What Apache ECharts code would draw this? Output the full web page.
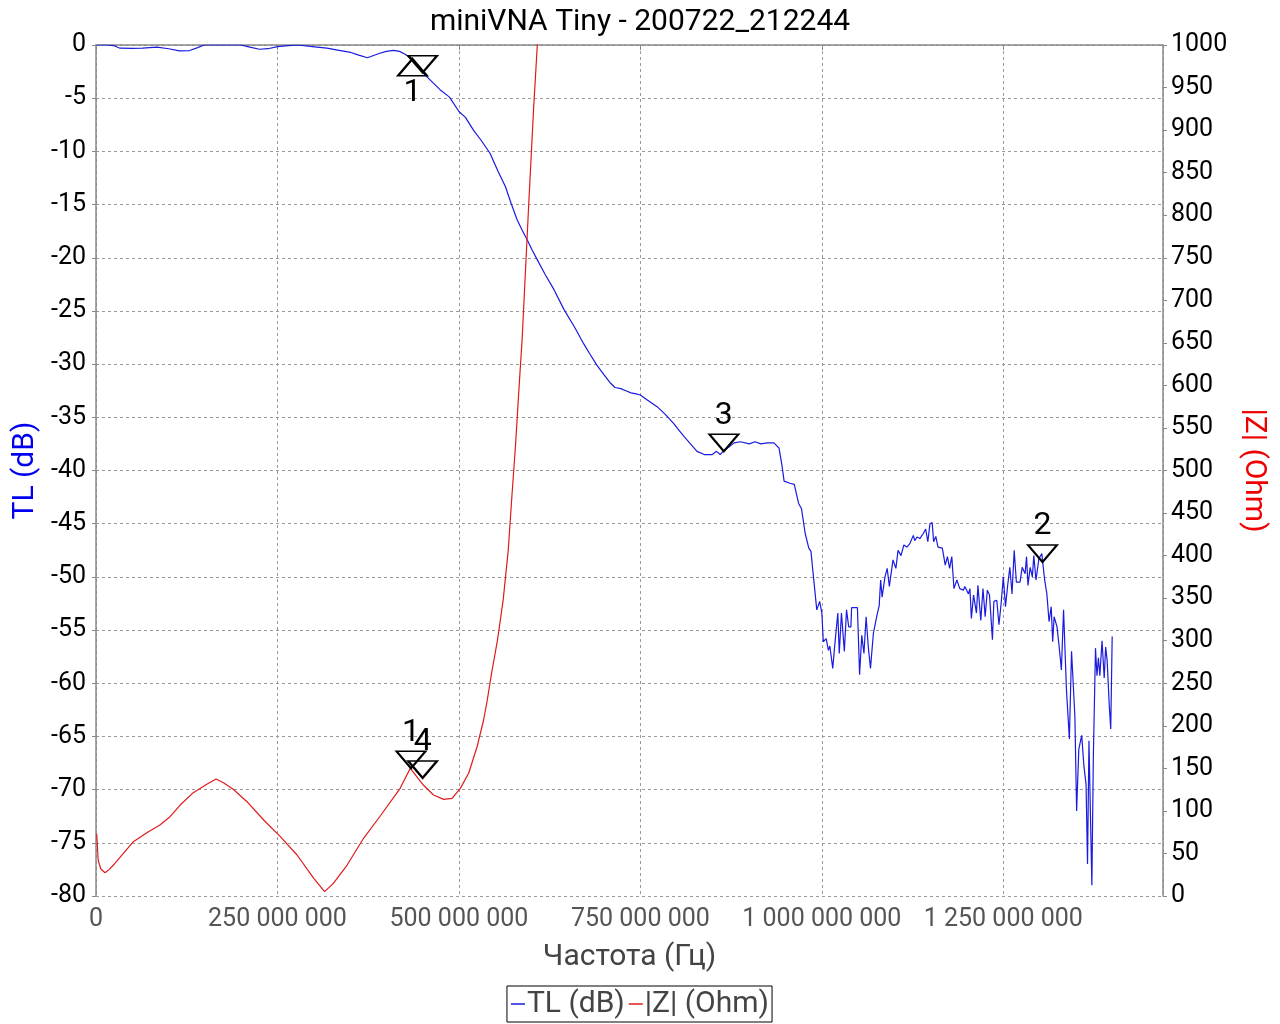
<!DOCTYPE html>
<html>
<head>
<meta charset="utf-8">
<script src="https://cdn.jsdelivr.net/npm/echarts@6/dist/echarts.min.js"></script>
<style>
html,body{margin:0;padding:0;background:#fff;}
#chart{width:1280px;height:1024px;}
</style>
</head>
<body>
<div id="chart"></div>
<script>
// ---- Data (frequencies in MHz) ----
const tlFreqMHz = [1,15,24,33,50,64,84,100,115,129,140,149,170,199,212,225,237,250,265,278,298,318,335,351,362,374,390,400,410,418,424,436,444,453,462,474,487,500,509,520,531,543,554,564,572,580,587,594,601,608,619,631,645,660,672,680,690,700,709,715,723,730,737,744,750,760,773,784,796,803,810,819,828,838,849,855,860,865,872,879,888,900,908,916,925,934,941,945,948,956,962,968,972,977,982,985,988,993,997,1000,1002,1006,1009,1011,1015,1018,1022,1024,1027,1031,1034,1037,1040,1041,1049,1052,1055,1058,1061,1064,1067,1071,1076,1079,1081,1083,1087,1090,1093,1098,1102,1105,1109,1113,1117,1121,1126,1128,1131,1135,1140,1143,1146,1149,1152,1154,1157,1160,1166,1170,1173,1176,1179,1182,1186,1190,1195,1197,1202,1204,1206,1209,1213,1215,1219,1222,1225,1228,1231,1235,1237,1241,1244,1247,1250,1253,1256,1259,1262,1265,1268,1273,1276,1280,1282,1284,1287,1290,1292,1295,1299,1303,1307,1310,1313,1316,1318,1320,1324,1327,1330,1333,1337,1341,1344,1348.6,1351,1354,1358,1361,1364,1366,1368,1372,1374,1377,1379,1381,1383,1386,1389,1391,1393,1396,1398,1400];
const tlDb = [0,0,-0.05,-0.3,-0.32,-0.3,-0.2,-0.35,-0.56,-0.52,-0.25,0,0,0,-0.2,-0.4,-0.35,-0.15,-0.05,0,-0.15,-0.3,-0.5,-0.7,-0.95,-1.2,-0.8,-0.6,-0.5,-0.6,-0.8,-1.3,-2.0,-2.8,-3.4,-4.2,-4.9,-6.25,-6.8,-8.0,-9.0,-10.2,-11.9,-13.3,-14.9,-16.4,-17.4,-18.3,-19.3,-20.2,-21.6,-23.0,-24.9,-26.6,-28.1,-29.0,-30.1,-31.0,-31.8,-32.2,-32.3,-32.5,-32.7,-32.8,-32.9,-33.4,-34.0,-34.7,-35.6,-36.2,-36.8,-37.5,-38.2,-38.5,-38.5,-38.2,-38.5,-38.1,-37.8,-37.4,-37.3,-37.5,-37.3,-37.5,-37.4,-37.4,-37.9,-39.5,-41.0,-41.2,-41.3,-43.1,-43.6,-45.9,-47.3,-47.6,-49.7,-53.1,-52.3,-53.4,-56.1,-55.8,-56.9,-56.5,-58.6,-56.25,-53.4,-57.2,-53.4,-57.0,-53.1,-54.7,-54.7,-52.9,-52.9,-59.2,-55.5,-57.2,-53.75,-56.6,-58.6,-55.3,-53.6,-52.7,-50.3,-51.9,-50.0,-49.2,-50.9,-48.4,-49.2,-47.5,-48.0,-47.0,-47.2,-46.9,-46.1,-46.6,-46.25,-46.4,-45.9,-45.5,-46.7,-45.0,-44.9,-46.7,-46.2,-47.2,-47.3,-48.9,-48.1,-49.2,-48.1,-51.1,-50.3,-51.1,-51.25,-50.9,-51.6,-51.1,-53.9,-51.7,-53.4,-50.8,-54.1,-51.1,-53.75,-51.25,-51.7,-55.9,-52.3,-52.2,-54.5,-52.5,-50.0,-52.8,-50.8,-49.1,-51.6,-47.5,-50.5,-50.5,-49.1,-49.7,-48.1,-50.8,-49.1,-50.0,-48.0,-50.3,-48.3,-47.8,-50.3,-51.6,-54.2,-52.8,-56.1,-53.75,-54.7,-56.6,-58.75,-53.1,-60.6,-65.25,-57.0,-63.1,-72.0,-66.2,-64.9,-67.75,-69.5,-77.0,-65.4,-79.0,-67.1,-56.7,-59.3,-57.6,-59.3,-56.0,-59.5,-56.6,-57.8,-62.1,-64.3,-55.6];

const zFreqMHz = [1,3,6.5,12.4,18,24,37.7,51.5,70,88,102,116,134,152.6,165.5,175.6,189,208,231,254,277,300,315,327,346,368.6,391.6,419,433,451,465,479,490.5,502,513.4,525,534,539,545,553,561,568,573,578,583,587,596,603,608,612];
const zOhm = [73,42,32,27.4,31,36.4,50,63.8,74.4,83.4,93.2,106.9,121.4,131.3,137.5,133.1,125.4,110.8,89.3,69.7,48.2,20.8,5.1,14.9,36.4,67.8,94,126.5,150,130.4,118.7,113.6,114.8,126.5,144.2,175.4,206.8,230,262,300,348,407,470,530,600,653,810,927,1000,1060];

// markers: [label, freqMHz, value, direction]
const tlMarkers = [['1',436,-1.3,'up'],['4',450,-2.6,'downNoLabel'],['3',865,-38.2,'down'],['2',1304,-48.6,'down']];
const zMarkers = [['1',434,150,'down'],['4',450,138.7,'down']];

const xTicksHz = [0,250000000,500000000,750000000,1000000000,1250000000];

// ---- Build ----
const FONT = 'Roboto';
const tlData = tlFreqMHz.map((f,i)=>[f*1e6, tlDb[i]]);
const zData = zFreqMHz.map((f,i)=>[f*1e6, zOhm[i]]);
const downPath = 'path://M0,0L30,0L15,17.5Z';
const upPath = 'path://M15,0L30,17.5L0,17.5Z';
function mk(m){
  const up = m[3]==='up';
  return {
    coord:[m[1]*1e6, m[2]],
    symbol: up?upPath:downPath,
    symbolSize:[29,17],
    symbolKeepAspect:false,
    symbolOffset:[0, up?'50%':'-50%'],
    itemStyle:{color:'rgba(0,0,0,0)', borderColor:'#000', borderWidth:2},
    label:{show: m[3]!=='downNoLabel', formatter:m[0], position: up?'bottom':'top', distance: up?0:2,
      color:'#000', fontSize:32, fontFamily:FONT}
  };
}
function fmt(v){ return String(Math.round(v)).replace(/\B(?=(\d{3})+(?!\d))/g,' '); }

const chart = echarts.init(document.getElementById('chart'), null, {renderer:'canvas'});
chart.setOption({
  animation:false,
  backgroundColor:'#fff',
  textStyle:{fontFamily:FONT},
  title:{text:'miniVNA Tiny - 200722_212244', left:'center', top:2,
    textStyle:{fontSize:30, fontWeight:'normal', color:'#000', fontFamily:FONT}},
  legend:{
    bottom:2, left:'center',
    data:[{name:'TL (dB)', icon:'rect'},{name:'|Z| (Ohm)', icon:'rect'}],
    itemWidth:14, itemHeight:1.5, itemGap:4,
    borderColor:'#000', borderWidth:1, padding:[3,3,3,4],
    textStyle:{fontSize:30, color:'#444', fontFamily:FONT, padding:[0,0,0,-3]}
  },
  grid:{left:96, right:117, top:45, bottom:128, containLabel:false, outerBoundsMode:'none'},
  xAxis:{
    type:'value', min:0, max:1470000000, interval:250000000,
    offset:4,
    axisLine:{show:true, lineStyle:{color:'#888', width:1.5}},
    axisTick:{show:true, length:5, lineStyle:{color:'#888'}},
    axisLabel:{color:'#555', fontSize:25, margin:7, fontFamily:FONT, showMaxLabel:false,
      formatter:function(v){ return xTicksHz.indexOf(v)>=0 ? fmt(v) : ''; }},
    splitLine:{show:true, lineStyle:{color:'#999', type:[3,3], width:1}},
    name:'Частота (Гц)', nameLocation:'middle', nameGap:42,
    nameTextStyle:{fontSize:30, color:'#444', fontFamily:FONT}
  },
  yAxis:[{
    type:'value', min:-80, max:0, interval:5, position:'left', offset:4,
    axisLine:{show:true, lineStyle:{color:'#888', width:1.5}},
    axisTick:{show:true, length:4, lineStyle:{color:'#888'}},
    axisLabel:{color:'#000', fontSize:25, margin:6, fontFamily:FONT, formatter:function(v){return String(v);}},
    splitLine:{show:true, lineStyle:{color:'#999', type:[3,3], width:1}},
    name:'TL (dB)', nameLocation:'middle', nameGap:44, nameRotate:90,
    nameTextStyle:{fontSize:30, color:'#0000ee', fontFamily:FONT}
  },{
    type:'value', min:0, max:1000, interval:50, position:'right', offset:0,
    axisLine:{show:true, lineStyle:{color:'#888', width:1.5}},
    axisTick:{show:true, length:4, lineStyle:{color:'#888'}},
    axisLabel:{color:'#000', fontSize:25, margin:8, fontFamily:FONT, formatter:function(v){return String(v);}},
    splitLine:{show:false},
    name:'|Z| (Ohm)', nameLocation:'middle', nameGap:70, nameRotate:-90,
    nameTextStyle:{fontSize:30, color:'#ee0000', fontFamily:FONT}
  }],
  series:[{
    name:'TL (dB)', type:'line', yAxisIndex:0, data:tlData, symbol:'none',
    lineStyle:{color:'#1a1ae0', width:1.2}, itemStyle:{color:'#1a1ae0'},
    markPoint:{data: tlMarkers.map(mk), animation:false}
  },{
    name:'|Z| (Ohm)', type:'line', yAxisIndex:1, data:zData, symbol:'none',
    lineStyle:{color:'#e01a1a', width:1.2}, itemStyle:{color:'#e01a1a'},
    markPoint:{data: zMarkers.map(mk), animation:false}
  }]
});
</script>
</body>
</html>
